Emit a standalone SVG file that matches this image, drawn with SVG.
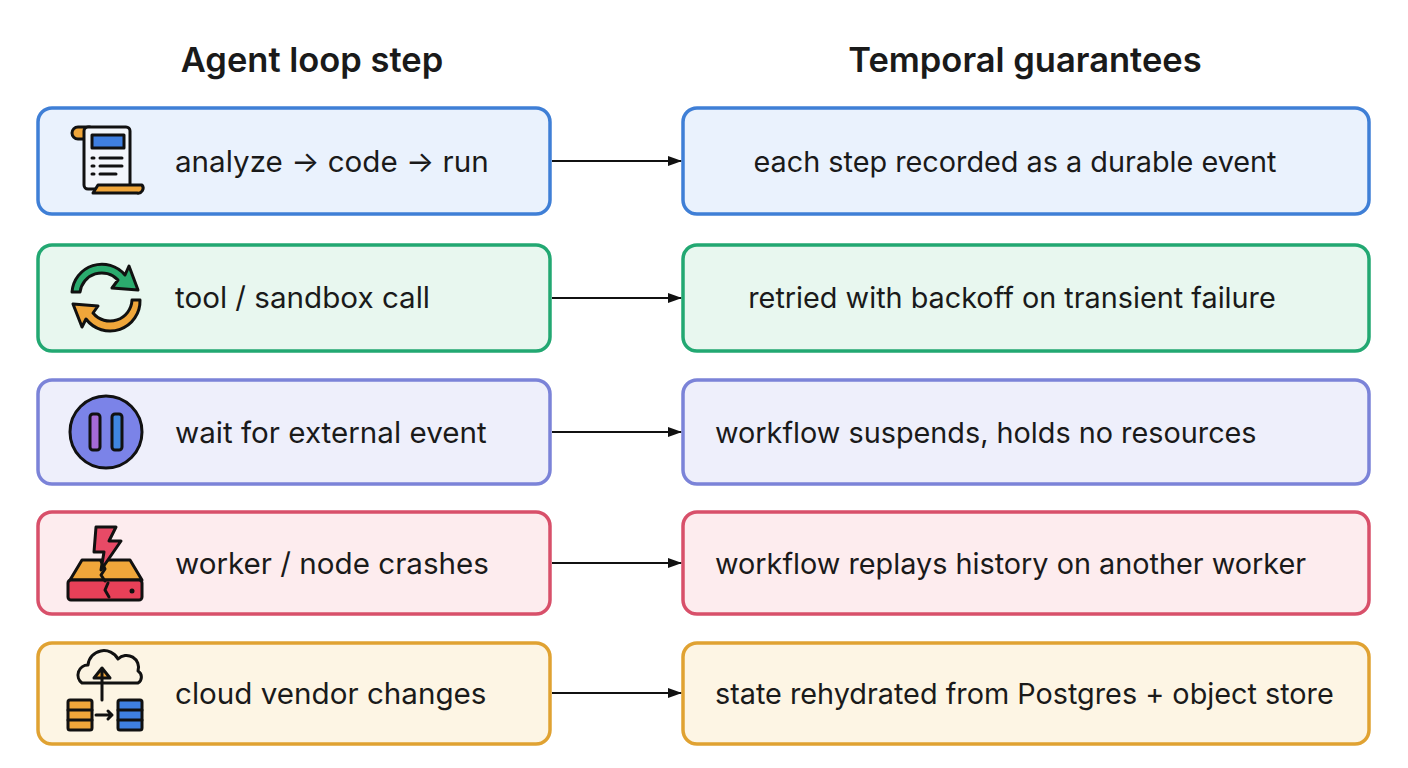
<svg xmlns="http://www.w3.org/2000/svg" width="1408" height="768" viewBox="0 0 1408 768">
<defs>
<marker id="ah" markerWidth="14" markerHeight="10" refX="13" refY="5" orient="auto" markerUnits="userSpaceOnUse"><path d="M0,0 L14,5 L0,10 Z" fill="#111"/></marker>
</defs>
<style>
text{font-family:Inter,"Noto Sans",sans-serif;fill:#1a1a1a}
.h{font-size:34.5px;font-weight:600}
.t{font-size:29.6px}
.r{font-size:28.8px}
.box{stroke-width:3.5}
.ic{stroke:#111;stroke-width:3;stroke-linejoin:round;stroke-linecap:round}
.c{stroke:#111;stroke-width:2;fill:none}
</style>
<rect width="1408" height="768" fill="#fff"/>
<text class="h" x="312" y="72" text-anchor="middle">Agent loop step</text>
<text class="h" x="1025" y="72" text-anchor="middle">Temporal guarantees</text>

<g id="n1">
<rect class="box" x="38" y="108" width="512" height="106" rx="14" fill="#eaf2fd" stroke="#3f7fd6"/>
<path class="ic" d="M78,127 h12 v12 h-12 a6,6 0 0 1 0,-12 Z" fill="#f0a63a"/>
<rect class="ic" x="84" y="127" width="46" height="62" rx="4" fill="#f3f6fb"/>
<rect class="ic" x="92" y="135" width="32" height="13" fill="#3f7fe0" stroke-width="2"/>
<path class="ic" d="M92,158h2M100,158h22M92,166h2M100,166h22M92,174h2M100,174h16" fill="none" stroke-width="2.5"/>
<path class="ic" d="M98,185 h44 a5,5 0 0 1 -5,8 h-44 Z" fill="#f0a63a"/>
<text class="t" x="175" y="172">analyze → code → run</text>
</g>
<g id="m1">
<rect class="box" x="683" y="108" width="686" height="106" rx="14" fill="#eaf2fd" stroke="#3f7fd6"/>
<text class="t r" x="1015" y="172" text-anchor="middle">each step recorded as a durable event</text>
</g>

<g id="n2">
<rect class="box" x="38" y="245" width="512" height="106" rx="14" fill="#e8f7ef" stroke="#22a872"/>
<path class="ic" d="M72,292 A30,30 0 0 1 125,275 L129,266 L138,290 L112,288 L118,280 A22,22 0 0 0 80,292 Z" fill="#2bab6e"/>
<path class="ic" d="M140,300 A30,30 0 0 1 86,319 L82,327 L73,304 L98,306 L93,313 A22,22 0 0 0 132,300 Z" fill="#f0a63a"/>
<text class="t" x="175" y="308">tool / sandbox call</text>
</g>
<g id="m2">
<rect class="box" x="683" y="245" width="686" height="106" rx="14" fill="#e8f7ef" stroke="#22a872"/>
<text class="t r" x="1012" y="308" text-anchor="middle">retried with backoff on transient failure</text>
</g>

<g id="n3">
<rect class="box" x="38" y="380" width="512" height="104" rx="14" fill="#eeeffb" stroke="#7b83d8"/>
<circle class="ic" cx="106" cy="432" r="36" fill="#7b83e8"/>
<rect class="ic" x="90" y="414" width="10" height="36" rx="3" fill="#a56ad6" stroke-width="2.5"/>
<rect class="ic" x="112" y="414" width="10" height="36" rx="3" fill="#3f86e0" stroke-width="2.5"/>
<text class="t" x="175" y="443">wait for external event</text>
</g>
<g id="m3">
<rect class="box" x="683" y="380" width="686" height="104" rx="14" fill="#eeeffb" stroke="#7b83d8"/>
<text class="t r" x="715" y="443">workflow suspends, holds no resources</text>
</g>

<g id="n4">
<rect class="box" x="38" y="512" width="512" height="102" rx="14" fill="#fdecee" stroke="#d8506a"/>
<path class="ic" d="M82,560 L130,560 L142,580 L70,580 Z" fill="#f0a63a"/>
<rect class="ic" x="68" y="580" width="74" height="20" rx="3" fill="#e84058"/>
<circle cx="132" cy="591" r="2.5" fill="#111"/>
<path class="ic" d="M101,561 l4,8 l-4,6 l4,6 M108,583 l-3,7 l4,7" fill="none" stroke-width="2"/>
<path class="ic" d="M96,527 L116,527 L109,541 L121,541 L101,570 L104,552 L94,552 Z" fill="#e84a66"/>
<text class="t" x="175" y="574">worker / node crashes</text>
</g>
<g id="m4">
<rect class="box" x="683" y="512" width="686" height="102" rx="14" fill="#fdecee" stroke="#d8506a"/>
<text class="t r" x="715" y="574">workflow replays history on another worker</text>
</g>

<g id="n5">
<rect class="box" x="38" y="643" width="512" height="101" rx="14" fill="#fdf5e4" stroke="#e0a232"/>
<path class="ic" d="M82,683 a10,10 0 0 1 6,-18 a16,16 0 0 1 30,-6 a12,12 0 0 1 20,12 a7,7 0 0 1 0,12 Z" fill="#fbf3e2" stroke-width="2.5"/>
<path class="ic" d="M102,700 L102,672 M94,678 L102,668 L110,678 Z" fill="#f0a63a" stroke-width="2.5"/>
<rect class="ic" x="68" y="700" width="24" height="30" rx="2" fill="#f0a63a" stroke-width="2.5"/>
<path class="ic" d="M68,710h24M68,720h24" stroke-width="2"/>
<rect class="ic" x="118" y="700" width="24" height="30" rx="2" fill="#3f80e0" stroke-width="2.5"/>
<path class="ic" d="M118,710h24M118,720h24" stroke-width="2"/>
<path class="ic" d="M96,715h16M108,711l4,4l-4,4" fill="none" stroke-width="2.5"/>
<text class="t" x="175" y="704">cloud vendor changes</text>
</g>
<g id="m5">
<rect class="box" x="683" y="643" width="686" height="101" rx="14" fill="#fdf5e4" stroke="#e0a232"/>
<text class="t r" x="715" y="704">state rehydrated from Postgres + object store</text>
</g>

<g id="connectors">
<path class="c" d="M552,161 H681" marker-end="url(#ah)"/>
<path class="c" d="M552,298 H681" marker-end="url(#ah)"/>
<path class="c" d="M552,432 H681" marker-end="url(#ah)"/>
<path class="c" d="M552,563 H681" marker-end="url(#ah)"/>
<path class="c" d="M552,693 H681" marker-end="url(#ah)"/>
</g>
</svg>
